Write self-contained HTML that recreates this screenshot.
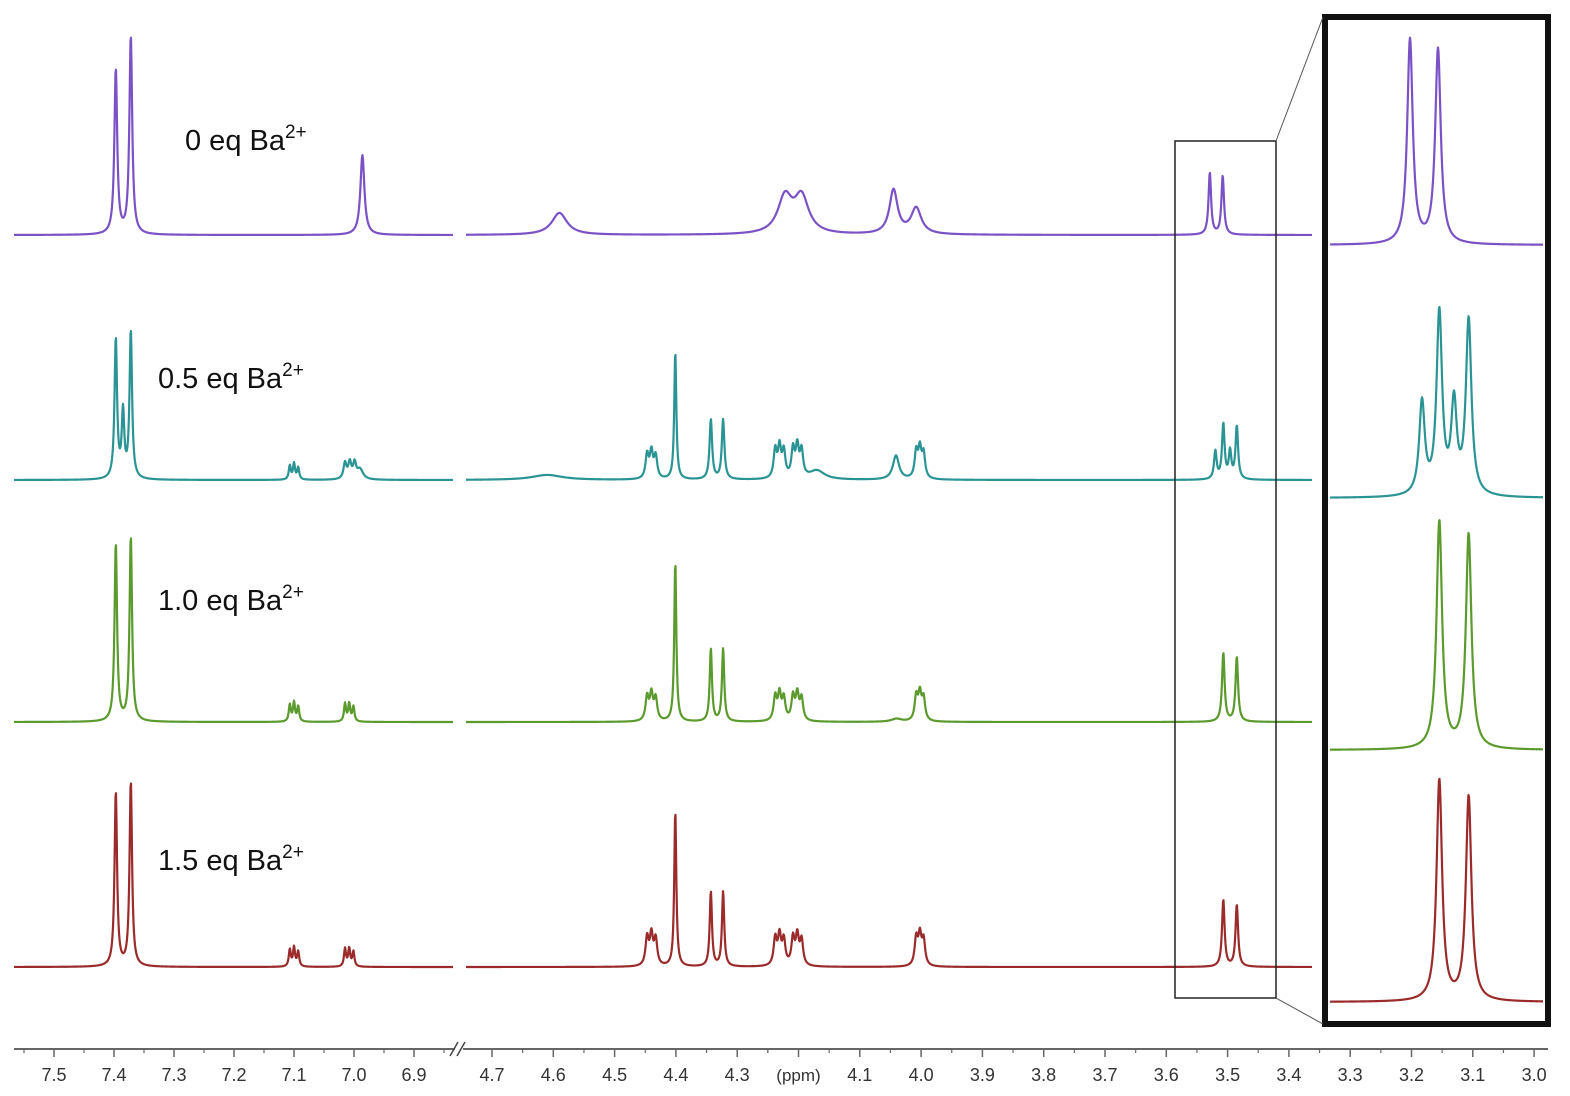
<!DOCTYPE html>
<html><head><meta charset="utf-8"><style>
html,body{margin:0;padding:0;background:#fff}
svg{display:block}
text{font-family:"Liberation Sans",sans-serif}
</style></head><body>
<svg id="c" width="1570" height="1096" viewBox="0 0 1570 1096" xmlns="http://www.w3.org/2000/svg"></svg>
<script>
// ---- data ----
const seriesNames = ["0 eq", "0.5 eq", "1.0 eq", "1.5 eq"];
const seriesColors = ["#7b52c6", "#2a9494", "#5b9a2c", "#9b2b2b"];
const baselines = [235, 480, 722, 967];
const insetBaselines = [245, 498, 750, 1002];
const labelY = [140, 378, 600, 860];
const labelX = [185, 158, 158, 158];
// peaks: ppm, intensity (px), half-width (ppm)
const ppm0 = [7.397, 7.372, 6.986, 4.59, 4.222, 4.195, 4.045, 4.008, 3.529, 3.508];
const int0 = [165, 198, 80, 22, 36, 36, 44, 26, 62, 59];
const wid0 = [0.0028, 0.0028, 0.004, 0.015, 0.014, 0.014, 0.008, 0.01, 0.0025, 0.0025];

const ppm1 = [7.397, 7.385, 7.372, 7.107, 7.100, 7.093, 7.015, 7.007, 6.999, 6.99, 4.61, 4.447, 4.440, 4.433, 4.401, 4.343, 4.323, 4.238, 4.231, 4.224, 4.209, 4.202, 4.195, 4.17, 4.041, 4.008, 4.002, 3.996, 3.520, 3.507, 3.496, 3.485];
const int1 = [140, 65, 148, 14, 16, 12, 16, 16, 15, 10, 5, 24, 26, 22, 128, 60, 60, 28, 30, 26, 28, 30, 26, 9, 24, 26, 28, 24, 28, 55, 27, 53];
const wid1 = [0.0025, 0.0025, 0.0025, 0.002, 0.002, 0.002, 0.003, 0.003, 0.003, 0.006, 0.03, 0.003, 0.003, 0.003, 0.002, 0.0025, 0.0025, 0.003, 0.003, 0.003, 0.003, 0.003, 0.003, 0.015, 0.006, 0.003, 0.003, 0.003, 0.0025, 0.0025, 0.0025, 0.0025];

const ppm2 = [7.397, 7.372, 7.107, 7.100, 7.093, 7.015, 7.008, 7.001, 4.447, 4.440, 4.433, 4.401, 4.343, 4.323, 4.238, 4.231, 4.224, 4.209, 4.202, 4.195, 4.04, 4.008, 4.002, 3.996, 3.507, 3.485];
const int2 = [178, 185, 17, 19, 15, 18, 18, 15, 24, 26, 22, 160, 73, 73, 24, 26, 22, 24, 26, 22, 3, 24, 26, 22, 69, 65];
const wid2 = [0.0025, 0.0025, 0.002, 0.002, 0.002, 0.002, 0.002, 0.002, 0.003, 0.003, 0.003, 0.002, 0.0022, 0.0022, 0.003, 0.003, 0.003, 0.003, 0.003, 0.003, 0.01, 0.003, 0.003, 0.003, 0.0025, 0.0025];

const ppm3 = [7.397, 7.372, 7.107, 7.100, 7.093, 7.015, 7.008, 7.001, 4.447, 4.440, 4.433, 4.401, 4.343, 4.323, 4.238, 4.231, 4.224, 4.209, 4.202, 4.195, 4.008, 4.002, 3.996, 3.507, 3.485];
const int3 = [175, 185, 17, 19, 15, 18, 18, 15, 28, 30, 26, 156, 75, 75, 27, 29, 25, 27, 29, 25, 27, 29, 25, 67, 62];
const wid3 = [0.0025, 0.0025, 0.002, 0.002, 0.002, 0.002, 0.002, 0.002, 0.003, 0.003, 0.003, 0.002, 0.0022, 0.0022, 0.003, 0.003, 0.003, 0.003, 0.003, 0.003, 0.003, 0.003, 0.003, 0.0025, 0.0025];

const leftTicks = [7.5, 7.4, 7.3, 7.2, 7.1, 7.0, 6.9];
const rightTicks = [4.7, 4.6, 4.5, 4.4, 4.3, 4.1, 4.0, 3.9, 3.8, 3.7, 3.6, 3.5, 3.4, 3.3, 3.2, 3.1, 3.0];
const insetScale = 3.3;

// ---- axes ----
const xLeft = p => 54 + (7.5 - p) * 600;
const xRight = p => 492 + (4.7 - p) * 613;
const xInset = p => 1410 + (3.529 - p) * 1333;
const invLeft = x => 7.5 - (x - 54) / 600;
const invRight = x => 4.7 - (x - 492) / 613;
const invInset = x => 3.529 - (x - 1410) / 1333;

const NS = "http://www.w3.org/2000/svg";
const svg = document.getElementById("c");
function mk(tag, attrs, parent) {
  const e = document.createElementNS(NS, tag);
  for (const k in attrs) e.setAttribute(k, attrs[k]);
  (parent || svg).appendChild(e);
  return e;
}
const P = [ppm0, ppm1, ppm2, ppm3], I = [int0, int1, int2, int3], W = [wid0, wid1, wid2, wid3];
function spec(s, p, scale, lo, hi) {
  let y = 0;
  for (let i = 0; i < P[s].length; i++) {
    if (P[s][i] < lo || P[s][i] > hi) continue;
    const g = W[s][i], d = p - P[s][i];
    y += I[s][i] * scale * g * g / (d * d + g * g);
  }
  return y;
}
function trace(s, x0, x1, inv, base, scale, lo, hi, name) {
  let d = "";
  for (let x = x0; x <= x1; x += 0.5) {
    const y = base - spec(s, inv(x), scale, lo, hi);
    d += (d ? "L" : "M") + x.toFixed(1) + " " + y.toFixed(2);
  }
  const el = mk("path", {d: d, fill: "none", stroke: seriesColors[s], "stroke-width": 2.2, "stroke-linejoin": "round"});
  
  
}
for (let s = 0; s < 4; s++) {
  trace(s, 14, 453, invLeft, baselines[s], 1, 6, 8, "spectrum-" + s + "-aromatic");
  trace(s, 466, 1312, invRight, baselines[s], 1, 3, 5, "spectrum-" + s + "-aliphatic");
  trace(s, 1330, 1543, invInset, insetBaselines[s], insetScale, 3.45, 3.6, "inset-spectrum-" + s);
  const t = mk("text", {x: labelX[s], y: labelY[s] + 10, "font-size": 29, fill: "#111"});
  
  
  t.textContent = seriesNames[s] + " Ba";
  const sup = mk("tspan", {dy: -12, "font-size": 19}, t);
  sup.textContent = "2+";
}

// zoom box & inset frame
let r = mk("rect", {x: 1175, y: 141, width: 101, height: 857, fill: "none", stroke: "#222", "stroke-width": 1.5});
 
let r2 = mk("rect", {x: 1325, y: 17, width: 223, height: 1007, fill: "none", stroke: "#111", "stroke-width": 6});
 
let l1 = mk("line", {x1: 1276, y1: 141, x2: 1323, y2: 17, stroke: "#555", "stroke-width": 1});
 
let l2 = mk("line", {x1: 1276, y1: 998, x2: 1323, y2: 1024, stroke: "#555", "stroke-width": 1});
 

// x axis
const ax = mk("g", {});
 
mk("line", {x1: 14, y1: 1049, x2: 455, y2: 1049, stroke: "#666", "stroke-width": 2}, ax);
mk("line", {x1: 463, y1: 1049, x2: 1548, y2: 1049, stroke: "#666", "stroke-width": 2}, ax);
mk("line", {x1: 450, y1: 1056, x2: 458, y2: 1042, stroke: "#444", "stroke-width": 1.5}, ax);
mk("line", {x1: 457, y1: 1056, x2: 465, y2: 1042, stroke: "#444", "stroke-width": 1.5}, ax);
function ticks(list, fx) {
  list.forEach((v, i) => {
    const x = fx(v);
    mk("line", {x1: x, y1: 1049, x2: x, y2: 1057, stroke: "#666", "stroke-width": 1.5}, ax);
    if (i < list.length - 1) {
      const m = fx(v - 0.05);
      mk("line", {x1: m, y1: 1049, x2: m, y2: 1053, stroke: "#666", "stroke-width": 1.2}, ax);
    }
    const t = mk("text", {x: x, y: 1081, "font-size": 18, fill: "#333", "text-anchor": "middle"}, ax);
    
    
    t.textContent = v.toFixed(1);
  });
}
ticks(leftTicks, xLeft);
mk("line", {x1: xLeft(7.55), y1: 1049, x2: xLeft(7.55), y2: 1053, stroke: "#666", "stroke-width": 1.2}, ax);
mk("line", {x1: xLeft(6.85), y1: 1049, x2: xLeft(6.85), y2: 1053, stroke: "#666", "stroke-width": 1.2}, ax);
ticks(rightTicks, xRight);
mk("line", {x1: xRight(4.2), y1: 1049, x2: xRight(4.2), y2: 1057, stroke: "#666", "stroke-width": 1.5}, ax);
mk("line", {x1: xRight(4.25), y1: 1049, x2: xRight(4.25), y2: 1053, stroke: "#666", "stroke-width": 1.2}, ax);
mk("line", {x1: xRight(4.15), y1: 1049, x2: xRight(4.15), y2: 1053, stroke: "#666", "stroke-width": 1.2}, ax);
const u = mk("text", {x: xRight(4.2), y: 1081, "font-size": 17, fill: "#333", "text-anchor": "middle"}, ax);


u.textContent = "(ppm)";
</script>
</body></html>
